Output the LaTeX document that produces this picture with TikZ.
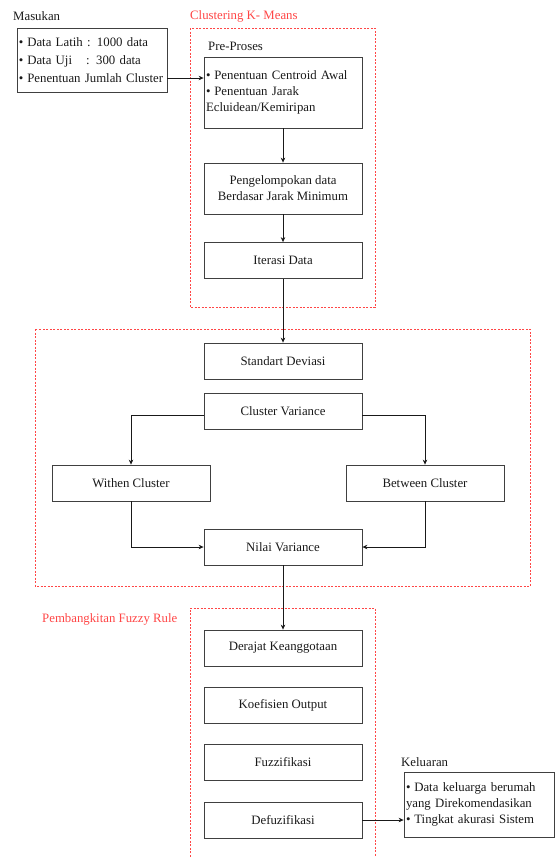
\documentclass[tikz,border=0pt]{standalone}
\usepackage{fontspec}
\setmainfont{Liberation Serif}
\usetikzlibrary{arrows.meta,calc}
\definecolor{redline}{RGB}{255,70,70}
\newcommand{\blt}{\textbullet\hspace{0.3em}}
\begin{document}
\begin{tikzpicture}[x=1pt,y=-1pt,
  font=\fontsize{12.8}{16}\selectfont,
  box/.style={draw=black!75, line width=0.8pt, minimum width=158pt, minimum height=36pt, inner sep=2pt, text=black!90},
  listbox/.style={draw=black!75, line width=0.8pt, inner sep=2pt, align=left, text=black!90},
  lbl/.style={anchor=west, inner sep=0pt, text=black!90},
  redlbl/.style={anchor=west, inner sep=0pt, text=redline},
  group/.style={draw=redline, line width=0.6pt, dash pattern=on 2pt off 1.5pt},
  arr/.style={draw=black!90, line width=0.7pt, -{Stealth[length=5pt,width=4.5pt]}},
  ln/.style={draw=black!90, line width=0.7pt}]
\useasboundingbox (0,0) rectangle (555,857);

% groups
\draw[group] (190,28) rectangle (375,307);
\draw[group] (35,329) rectangle (530,586);
\draw[group] (190,860) -- (190,608) -- (375,608) -- (375,860);

% labels
\node[lbl] (lmas) at (13,16) {Masukan};
\node[redlbl] (lclu) at (190,16) {Clustering K- Means};
\node[lbl] (lpre) at (208,46) {Pre-Proses};
\node[redlbl] (lfuz) at (42,619) {Pembangkitan Fuzzy Rule};
\node[lbl] (lkel) at (401,762) {Keluaran};

% input box
\node[listbox, minimum width=150pt, minimum height=64pt, text width=146pt, font=\fontsize{12.8}{18}\selectfont] (mas) at (92,60)
  {\blt Data Latih : 1000 data\\ \blt Data Uji\hspace{1.1em}: 300 data\\ \blt Penentuan Jumlah Cluster};

% K-means
\node[listbox, minimum width=158pt, minimum height=71pt, text width=154pt] (b1) at (283,92.5)
  {\blt Penentuan Centroid Awal\\ \blt Penentuan Jarak\\ Ecluidean/Kemiripan};
\node[box, minimum height=51pt, align=center] (b2) at (283,188.5) {Pengelompokan data\\ Berdasar Jarak Minimum};
\node[box] (b3) at (283,260.5) {Iterasi Data};

% variance
\node[box] (std) at (283,361) {Standart Deviasi};
\node[box] (cv) at (283,411) {Cluster Variance};
\node[box] (wc) at (131,483) {Withen Cluster};
\node[box] (bc) at (425,483) {Between Cluster};
\node[box] (nv) at (283,547) {Nilai Variance};

% fuzzy
\node[box] (dk) at (283,648) {Derajat Keanggotaan};
\node[box] (ko) at (283,705) {Koefisien Output};
\node[box] (fz) at (283,762.5) {Fuzzifikasi};
\node[box] (df) at (283,820) {Defuzifikasi};

% output box
\node[listbox, minimum width=150pt, minimum height=65pt, text width=146pt] (kel) at (479,804.5)
  {\blt Data keluarga berumah\\ yang Direkomendasikan\\ \blt Tingkat akurasi Sistem};

% connectors
\draw[arr] ([yshift=-18pt]mas.east) -- ([yshift=-18pt]mas.east -| b1.west);
\draw[arr] (b1) -- (b2);
\draw[arr] (b2) -- (b3);
\draw[arr] (b3) -- (std);
\draw[arr] ([yshift=-4pt]cv.west) -| (wc.north);
\draw[arr] ([yshift=-4pt]cv.east) -| (bc.north);
\draw[arr] (wc.south) |- (nv.west);
\draw[arr] (bc.south) |- (nv.east);
\draw[arr] (nv) -- (dk);
\draw[arr] (df.east) -- (df.east -| kel.west);
\end{tikzpicture}
\end{document}
